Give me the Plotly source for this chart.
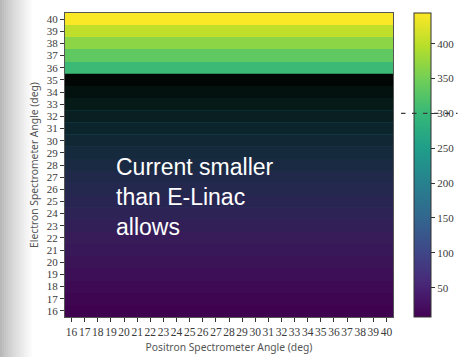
import plotly.graph_objects as go

# Spectrometer angle grid (deg)
positron_angle = list(range(16, 41))
electron_angle = list(range(16, 41))

# Beam current needed at each electron-spectrometer angle (one value per row)
current_by_electron_angle = [10, 16, 22, 29, 36, 44, 53, 63, 74, 86, 99, 113, 129,
                             146, 164, 184, 205, 228, 252, 278, 305, 335, 367, 402, 442]

colorbar_ticks = [50, 100, 150, 200, 250, 300, 350, 400]
linac_limit = 300
zmin, zmax = 8, 444

z = [[v] * len(positron_angle) for v in current_by_electron_angle]

serif = "Liberation Serif, serif"
sans = "Noto Sans, sans-serif"
tick_grey = "#3a3a3a"

fig = go.Figure()
fig.add_trace(go.Heatmap(
    x=positron_angle, y=electron_angle, z=z,
    colorscale="Viridis", zmin=zmin, zmax=zmax,
    colorbar=dict(
        x=(414 - 65) / 328, xanchor="left", xpad=0, y=0.5, yanchor="middle",
        len=1.0, lenmode="fraction", ypad=0,
        thickness=17, outlinewidth=1, outlinecolor="#333",
        tickvals=colorbar_ticks, ticks="outside", ticklen=4, tickcolor="#333",
        tickfont=dict(family=serif, size=11, color=tick_grey),
    ),
    hoverinfo="skip",
))

shapes = []
# soft grey shade along the left edge of the page
n_strips = 17
for i in range(n_strips):
    shade = 184 + int(71 * (i / (n_strips - 1)) ** 0.8)
    shapes.append(dict(type="rect", xref="paper", yref="paper", layer="below",
                       x0=(-65 + i * 2) / 328, x1=(-65 + (i + 1) * 2) / 328,
                       y0=-40 / 304, y1=1 + 13 / 304, line_width=0,
                       fillcolor=f"rgb({shade},{shade},{shade})"))

# darkening veil over rows whose current is below the E-Linac limit
below = [(a, v) for a, v in zip(electron_angle, current_by_electron_angle) if v < linac_limit]
lo, hi = below[0][0], below[-1][0]
for a, v in below:
    t = (a - lo) / (hi - lo)
    shapes.append(dict(type="rect", xref="x", yref="y",
                       x0=positron_angle[0] - 0.5, x1=positron_angle[-1] + 0.5,
                       y0=a - 0.5, y1=a + 0.5, line_width=0,
                       fillcolor="black", opacity=0.08 + 0.88 * t ** 1.5))

# dashed marker at the limit, drawn across the colour bar
y_lim = (linac_limit - zmin) / (zmax - zmin)
annotations = []
dash_px, gap_px = 6, 5
x_start, x_end = 401, 459
xp = x_start
while xp < x_end:
    seg = min(dash_px, x_end - xp)
    annotations.append(dict(
        text="", xref="paper", yref="y domain",
        x=(xp - 65) / 328, y=y_lim, ax=seg, ay=0,
        showarrow=True, arrowhead=0, arrowwidth=1.2, arrowcolor="#3a3a3a",
        standoff=0, startstandoff=0,
    ))
    xp += dash_px + gap_px

annotations.append(dict(
    text="Current smaller<br>than E-Linac<br>allows",
    xref="paper", yref="paper", x=(114 - 65) / 328, y=(317 - 152) / 304,
    xanchor="left", yanchor="top", align="left", showarrow=False,
    font=dict(family="Liberation Sans, Arial, sans-serif", size=23, color="white"),
))

fig.update_layout(
    width=460, height=357,
    margin=dict(l=65, r=67, t=13, b=40, autoexpand=False),
    paper_bgcolor="white", plot_bgcolor="white",
    shapes=shapes,
    annotations=annotations,
    xaxis=dict(
        tickvals=positron_angle, ticks="outside", ticklen=4, tickcolor="#333",
        tickangle=0, automargin=False,
        tickfont=dict(family=serif, size=11.5, color=tick_grey),
        title=dict(text="Positron Spectrometer Angle (deg)", standoff=6,
                   font=dict(family=sans, size=10.3, color="#555")),
        showline=True, mirror=True, linecolor="#555", linewidth=1,
        showgrid=False, zeroline=False, range=[15.5, 40.5],
    ),
    yaxis=dict(
        tickvals=electron_angle, ticks="outside", ticklen=4, tickcolor="#333",
        automargin=False,
        tickfont=dict(family=serif, size=11, color=tick_grey),
        title=dict(text="Electron Spectrometer Angle (deg)", standoff=6,
                   font=dict(family=sans, size=10.3, color="#555")),
        showline=True, mirror=True, linecolor="#555", linewidth=1,
        showgrid=False, zeroline=False, range=[15.5, 40.5],
    ),
)

fig.write_html("out.html")
